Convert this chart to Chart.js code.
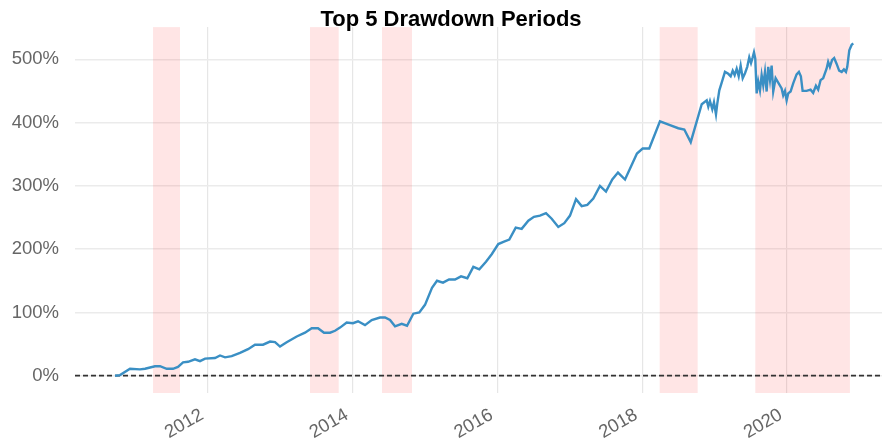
<!DOCTYPE html>
<html><head><meta charset="utf-8">
<script src="https://cdn.jsdelivr.net/npm/chart.js@4/dist/chart.umd.min.js"></script>
<style>html,body{margin:0;padding:0;background:#fff}#wrap{width:882px;height:445px;position:relative}</style>
</head><body><div id="wrap"><canvas id="c" width="882" height="445"></canvas></div>
<script>
const chartTitle = 'Top 5 Drawdown Periods';
// decimal-year dates and cumulative returns (%)
const dates = [
2010.715,2010.784,2010.922,2011.060,2011.130,2011.268,2011.337,2011.429,2011.516,2011.585,
2011.655,2011.724,2011.820,2011.889,2011.959,2012.097,2012.166,2012.235,2012.327,2012.442,
2012.553,2012.649,2012.760,2012.857,2012.926,2012.995,2013.087,2013.226,2013.340,2013.433,
2013.520,2013.603,2013.686,2013.755,2013.824,2013.916,2014.003,2014.073,2014.169,2014.262,
2014.376,2014.446,2014.515,2014.584,2014.676,2014.750,2014.837,2014.920,2014.998,2015.095,
2015.164,2015.247,2015.330,2015.413,2015.496,2015.583,2015.666,2015.749,2015.841,2015.920,
2016.011,2016.090,2016.163,2016.252,2016.334,2016.426,2016.504,2016.587,2016.670,2016.749,
2016.840,2016.923,2017.002,2017.085,2017.163,2017.241,2017.324,2017.416,2017.499,2017.586,
2017.665,2017.762,2017.854,2017.927,2018.006,2018.097,2018.245,2018.383,2018.498,2018.581,
2018.670,2018.822,2018.891,2018.913,2018.936,2018.968,2018.991,2019.019,2019.037,2019.065,
2019.098,2019.143,2019.189,2019.222,2019.250,2019.277,2019.305,2019.333,2019.360,2019.388,
2019.420,2019.451,2019.479,2019.503,2019.526,2019.544,2019.562,2019.581,2019.603,2019.627,
2019.650,2019.672,2019.696,2019.719,2019.741,2019.765,2019.788,2019.810,2019.843,2019.879,
2019.926,2019.948,2019.972,2019.995,2020.017,2020.050,2020.086,2020.133,2020.165,2020.192,
2020.216,2020.271,2020.326,2020.362,2020.400,2020.431,2020.464,2020.500,2020.547,2020.569,
2020.593,2020.624,2020.652,2020.685,2020.721,2020.756,2020.787,2020.815,2020.833,2020.861,
2020.894,2020.916];
const cumReturns = [
0,1,11,10,11,15,15,11,11,14,
21,22,26,23,27,28,32,29,31,36,
42,49,49,54,53,46,53,62,68,75,
75,68,68,71,76,84,83,86,80,88,
92,92,88,78,82,79,98,100,112,139,
150,147,152,152,157,154,172,168,180,192,
208,212,215,234,232,245,251,253,257,248,
235,241,253,279,268,270,280,300,291,310,
321,310,333,351,359,359,402,396,391,389,
369,429,435,425,434,421,432,413,430,451,
463,480,477,473,482,475,485,473,490,470,
478,488,503,494,503,511,501,446,465,451,
475,459,480,449,488,467,490,449,470,463,
454,443,450,435,446,449,462,476,480,473,
450,450,452,447,458,452,467,470,485,496,
488,499,502,493,482,480,484,480,488,514,
523,525];
const drawdownStarts = [2011.240, 2013.409, 2014.404, 2018.241, 2019.562];
const drawdownEnds   = [2011.613, 2013.806, 2014.819, 2018.766, 2020.870];
const xTickYears = [2012, 2014, 2016, 2018, 2020];
const yTickValues = [0, 100, 200, 300, 400, 500];
const xRange = [2010.162, 2021.313];
const yRange = [-27.3, 550.8];

const FONT = '"Liberation Sans", Arial, Helvetica, sans-serif';
const points = dates.map((d, i) => ({x: d, y: cumReturns[i]}));

const overlay = {
  id: 'overlay',
  beforeDatasetsDraw(chart) {
    const {ctx, chartArea: a, scales: {x, y}} = chart;
    ctx.save();
    ctx.fillStyle = 'rgba(255,0,0,0.1)';
    drawdownStarts.forEach((s, i) => {
      const x0 = x.getPixelForValue(s), x1 = x.getPixelForValue(drawdownEnds[i]);
      ctx.fillRect(x0, a.top, x1 - x0, a.bottom - a.top);
    });
    const y0 = y.getPixelForValue(0);
    ctx.strokeStyle = '#333';
    ctx.lineWidth = 1.8;
    ctx.setLineDash([5, 3]);
    ctx.beginPath();
    ctx.moveTo(a.left, y0);
    ctx.lineTo(a.right, y0);
    ctx.stroke();
    ctx.restore();
  },
  afterDraw(chart) {
    const {ctx} = chart;
    ctx.save();
    ctx.font = 'bold 22px ' + FONT;
    ctx.fillStyle = '#000';
    ctx.textAlign = 'center';
    ctx.textBaseline = 'alphabetic';
    ctx.fillText(chartTitle, 451, 26);
    ctx.restore();
  }
};

new Chart(document.getElementById('c'), {
  type: 'line',
  data: {
    datasets: [{
      data: points,
      borderColor: '#3a8fc4',
      borderWidth: 2.4,
      pointRadius: 0,
      tension: 0,
      fill: false
    }]
  },
  options: {
    responsive: false,
    animation: false,
    layout: {padding: {top: 23, right: 0, bottom: 0, left: 0}},
    plugins: {legend: {display: false}, tooltip: {enabled: false}, title: {display: false}},
    scales: {
      x: {
        type: 'linear',
        min: xRange[0], max: xRange[1],
        afterBuildTicks: s => { s.ticks = xTickYears.map(v => ({value: v})); },
        afterFit: s => { s.height = 52; },
        ticks: {
          callback: v => String(v),
          minRotation: 30, maxRotation: 30,
          padding: 11,
          labelOffset: -6,
          color: '#666',
          font: {family: FONT, size: 18.5}
        },
        grid: {color: '#e6e6e6', lineWidth: 1.2, drawTicks: false},
        border: {display: false}
      },
      y: {
        type: 'linear',
        min: yRange[0], max: yRange[1],
        afterBuildTicks: s => { s.ticks = yTickValues.map(v => ({value: v})); },
        afterFit: s => { s.width = 75; },
        ticks: {
          callback: v => v + '%',
          padding: 16,
          color: '#666',
          font: {family: FONT, size: 18.5}
        },
        grid: {color: '#ebebeb', lineWidth: 1.5, drawTicks: false},
        border: {display: false}
      }
    }
  },
  plugins: [overlay]
});
</script></body></html>
